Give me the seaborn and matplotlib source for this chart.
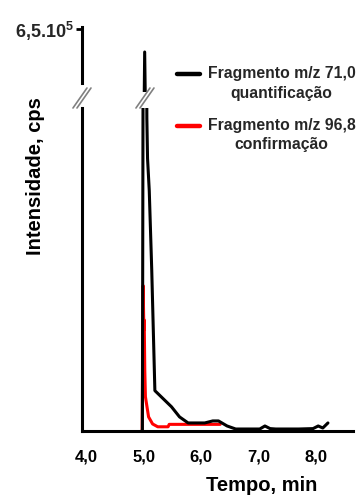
import numpy as np
import pandas as pd
import matplotlib
matplotlib.use("Agg")
import matplotlib.pyplot as plt
import seaborn as sns
from matplotlib.lines import Line2D
from matplotlib.transforms import IdentityTransform

sns.set_theme(style="white")
plt.rcParams["font.family"] = ["Liberation Sans", "DejaVu Sans"]
plt.rcParams["font.weight"] = "bold"
plt.rcParams["mathtext.fontset"] = "custom"
plt.rcParams["mathtext.rm"] = "Liberation Sans:bold"
plt.rcParams["mathtext.it"] = "Liberation Sans:bold"
plt.rcParams["mathtext.bf"] = "Liberation Sans:bold"

# cromatograma (tempo em min, intensidade em cps)
tempo_71 = [4.960, 4.972, 5.012, 5.050, 5.062, 5.092, 5.135, 5.190, 5.480, 5.620,
            5.770, 6.060, 6.200, 6.300, 6.450, 6.600, 6.900, 7.020, 7.110, 7.200,
            7.300, 7.700, 7.950, 8.040, 8.120, 8.210]
int_71 = [0, 0, 5.90e5, 1.55e5, 1.35e5, 1.19e5, 8.0e4, 2.0e4, 1.2e4, 7.0e3,
          4.0e3, 4.0e3, 5.0e3, 5.0e3, 2.5e3, 1.0e3, 1.0e3, 1.0e3, 2.5e3, 1.2e3,
          1.0e3, 1.0e3, 1.2e3, 2.5e3, 1.5e3, 4.0e3]

tempo_96 = [4.968, 4.985, 4.998, 5.004, 5.014, 5.025, 5.080, 5.150, 5.240, 5.420, 5.440, 6.330]
int_96 = [0, 7.2e4, 5.0e4, 5.5e4, 3.0e4, 1.7e4, 7.0e3, 3.5e3, 2.1e3, 2.1e3, 3.3e3, 3.3e3]

label_71 = "Fragmento m/z 71,0\nquantificação"
label_96 = "Fragmento m/z 96,8\nconfirmação"

xticks_min = [4, 5, 6, 7, 8]
xtick_labels = ["4,0", "5,0", "6,0", "7,0", "8,0"]
y_top_value = 6.5e5
y_top_label = "6,5.10$^5$"

frag71 = pd.DataFrame({"Tempo": tempo_71, "Intensidade": int_71})
frag96 = pd.DataFrame({"Tempo": tempo_96, "Intensidade": int_96})

fig = plt.figure(figsize=(3.58, 4.96), dpi=100)
ax_top = fig.add_axes([0.229, 0.8145, 0.757, 0.131])
ax = fig.add_axes([0.229, 0.131, 0.757, 0.6513])

# broken y axis: same trace on both axes
sns.lineplot(data=frag71, x="Tempo", y="Intensidade", color="black", lw=2.2,
             sort=False, estimator=None, zorder=3, label=label_71, ax=ax)
sns.lineplot(data=frag96, x="Tempo", y="Intensidade", color="red", lw=2.2,
             sort=False, estimator=None, zorder=2, label=label_96, ax=ax)
sns.lineplot(data=frag71, x="Tempo", y="Intensidade", color="black", lw=2.2,
             sort=False, estimator=None, ax=ax_top)

ax.set_xlim(3.918, 8.647)
ax.set_ylim(0, 1.6e5)
ax_top.set_xlim(3.918, 8.647)
ax_top.set_ylim(4.854e5, 6.552e5)

for a in (ax, ax_top):
    a.set_facecolor("none")
    a.spines[["top", "right"]].set_visible(False)
    for s in ("left", "bottom"):
        a.spines[s].set_color("black")
        a.spines[s].set_linewidth(2.2)
    a.set_xlabel("")
    a.set_ylabel("")

ax_top.spines["bottom"].set_visible(False)
ax_top.spines["left"].set_bounds(5.089e5, 6.552e5)
ax_top.set_xticks([])
ax_top.set_yticks([y_top_value], [y_top_label])
ax_top.tick_params(axis="y", left=True, length=4, width=2, color="black",
                   pad=2, labelsize=13)

ax.set_yticks([])
ax.set_xticks(xticks_min, xtick_labels)
ax.tick_params(axis="x", length=0, pad=13, labelsize=12, labelcolor="black")

ax.set_xlabel("Tempo, min", fontsize=14.5, fontweight="bold", color="black")
ax.xaxis.set_label_coords(0.664, -0.139)
ax.set_ylabel("Intensidade, cps", fontsize=14.5, fontweight="bold", color="black")
ax.yaxis.set_label_coords(-0.137, 0.789)

leg = ax.legend(loc="upper left", bbox_to_anchor=(177 / 358, 1 - 66 / 496),
                bbox_transform=fig.transFigure, frameon=False, fontsize=11.3,
                handlelength=1.47, handletextpad=0.5, borderpad=0,
                borderaxespad=0, labelspacing=1.1)
for txt in leg.get_texts():
    txt.set_multialignment("center")
    txt.set_linespacing(1.38)
# handle sits beside the first line of each label
for ln in leg.get_lines():
    ln.set_linewidth(3.2)
    ln.set_ydata(np.asarray(ln.get_ydata()) + 7.2)

# break marks (//) on the y axis and on the peak
fig_h = fig.bbox.height
y_mid = fig_h - 98
x_left = ax.transAxes.transform((0, 0))[0]
x_peak = ax.transData.transform((5.017, 0))[0]
for xc in (x_left, x_peak):
    for dx in (-2, 2):
        fig.add_artist(Line2D([xc + dx - 7, xc + dx + 7], [y_mid - 10, y_mid + 10],
                              transform=IdentityTransform(), color="gray", lw=1.2))

fig.savefig("out.png", dpi=100)
